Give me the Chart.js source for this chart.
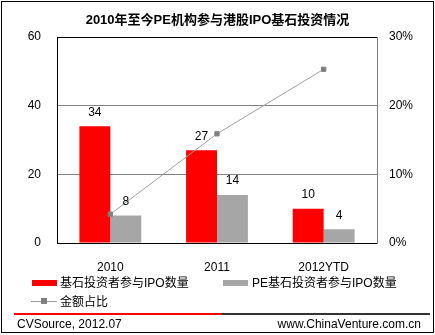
<!DOCTYPE html>
<html>
<head>
<meta charset="utf-8">
<script src="https://cdn.jsdelivr.net/npm/chart.js@4/dist/chart.umd.min.js"></script>
<style>
body { margin: 0; background: #fff; font-family: "Liberation Sans", Arial, "Noto Sans CJK SC", sans-serif; }
#wrap { position: relative; width: 435px; height: 335px; overflow: hidden; }
#frame { position: absolute; left: 1px; top: 1px; width: 431px; height: 330px; border: 1px solid #000; }
#title { position: absolute; left: 0; top: 9px; width: 435px; text-align: center; font-size: 13px; font-weight: bold; color: #000; }
canvas { position: absolute; left: 0; top: 0; }
.lg { position: absolute; font-size: 12px; color: #000; white-space: nowrap; line-height: 14px; }
.sw { position: absolute; }
#rule1 { position: absolute; left: 14px; top: 313px; width: 208px; height: 2px; background: #ff0000; }
#rule2 { position: absolute; left: 222px; top: 313px; width: 208px; height: 2px; background: #333; }
.foot { position: absolute; top: 317px; font-size: 12px; color: #000; }
</style>
</head>
<body>
<div id="wrap">
  <div id="frame"></div>
  <canvas id="myChart" width="435" height="335"></canvas>
  <div id="title">2010年至今PE机构参与港股IPO基石投资情况</div>

  <div class="sw" style="left:32px;top:280px;width:25px;height:6px;background:#ff0000"></div>
  <div class="lg" style="left:60px;top:276px">基石投资者参与IPO数量</div>
  <div class="sw" style="left:223px;top:280px;width:25px;height:6px;background:#a6a6a6"></div>
  <div class="lg" style="left:252px;top:276px">PE基石投资者参与IPO数量</div>
  <div class="sw" style="left:31px;top:301px;width:26px;height:1px;background:#999"></div>
  <div class="sw" style="left:41px;top:298px;width:6px;height:6px;background:#808080"></div>
  <div class="lg" style="left:60px;top:295px">金额占比</div>

  <div id="rule1"></div>
  <div id="rule2"></div>
  <div class="foot" style="left:17px">CVSource, 2012.07</div>
  <div class="foot" style="right:14px">www.ChinaVenture.com.cn</div>
</div>
<script>
var years = ['2010', '2011', '2012YTD'];
var cornerstoneIpo = [34, 27, 10];
var peCornerstoneIpo = [8, 14, 4];
var amountShare = [4.2, 15.9, 25.3];

var tickFont = { family: '"Liberation Sans", Arial, sans-serif', size: 12 };

// numbers above the bars (bar datasets only)
var barLabels = {
	id: 'barLabels',
	afterDatasetsDraw: function(chart) {
		var ctx = chart.ctx;
		ctx.save();
		ctx.font = '12px "Liberation Sans", Arial, sans-serif';
		ctx.fillStyle = '#000';
		ctx.textAlign = 'center';
		ctx.textBaseline = 'bottom';
		chart.data.datasets.forEach(function(ds, di) {
			if (ds.type !== 'bar') return;
			chart.getDatasetMeta(di).data.forEach(function(bar, i) {
				ctx.fillText(ds.data[i], bar.x, bar.y - 8);
			});
		});
		ctx.restore();
	}
};

var ctx = document.getElementById("myChart").getContext("2d");
var myChart = new Chart(ctx, {
	data: {
		labels: years,
		datasets: [{
			type: 'line',
			label: '金额占比',
			data: amountShare,
			yAxisID: 'y2',
			borderColor: '#a0a0a0',
			borderWidth: 1,
			pointStyle: 'rect',
			pointRadius: 3,
			pointBackgroundColor: '#808080',
			pointBorderColor: '#808080',
			order: 0
		}, {
			type: 'bar',
			label: '基石投资者参与IPO数量',
			data: cornerstoneIpo,
			backgroundColor: '#ff0000',
			yAxisID: 'y',
			categoryPercentage: 0.58,
			barPercentage: 1,
			order: 1
		}, {
			type: 'bar',
			label: 'PE基石投资者参与IPO数量',
			data: peCornerstoneIpo,
			backgroundColor: '#a6a6a6',
			yAxisID: 'y',
			categoryPercentage: 0.58,
			barPercentage: 1,
			order: 1
		}]
	},
	options: {
		responsive: false,
		animation: false,
		events: [],
		layout: { padding: { top: 37, bottom: 62, left: 0, right: 0 } },
		plugins: {
			legend: { display: false },
			tooltip: { enabled: false }
		},
		scales: {
			x: {
				grid: { display: false },
				border: { color: '#000' },
				ticks: { color: '#000', font: tickFont, padding: 9, maxRotation: 0 },
				afterFit: function(s) { s.height = 30; }
			},
			y: {
				position: 'left',
				min: 0, max: 60,
				ticks: { stepSize: 20, color: '#000', font: tickFont, padding: 16 },
				grid: {
					drawTicks: false,
					color: function(c) { return (c.tick.value === 0 || c.tick.value === 60) ? '#000' : '#808080'; }
				},
				border: { color: '#000' },
				afterFit: function(s) { s.width = 57; }
			},
			y2: {
				position: 'right',
				min: 0, max: 30,
				ticks: { stepSize: 10, color: '#000', font: tickFont, padding: 12,
					callback: function(v) { return v + '%'; } },
				grid: { display: false, drawTicks: false },
				border: { color: '#808080' },
				afterFit: function(s) { s.width = 58; }
			}
		}
	},
	plugins: [barLabels]
});
</script>
</body>
</html>
